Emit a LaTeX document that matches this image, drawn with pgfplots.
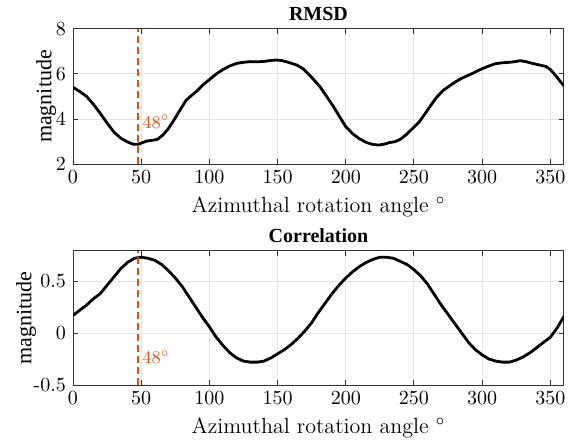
\documentclass[border=0pt]{standalone}
\usepackage{pgfplots}
\pgfplotsset{compat=1.18}
\usepackage{fontspec}
\newfontfamily\timesfont{Liberation Serif}
\definecolor{morange}{rgb}{0.85,0.325,0.098}
\pgfplotsset{
  myaxis/.style={
    scale only axis, width=245.5pt,
    xmin=0, xmax=360,
    xtick={0,50,...,350},
    grid=major,
    major grid style={gray!22, line width=0.5pt},
    axis line style={black!80, line width=0.5pt},
    tick style={black!80, line width=0.5pt},
    tick align=inside, major tick length=2.5pt,
    tick label style={font=\fontsize{10}{12}\selectfont},
    every axis title shift=0pt,
    title style={font=\timesfont\bfseries\fontsize{10}{12}\selectfont, at={(0.5,1)}, anchor=base, yshift=4.3pt},
    xlabel={Azimuthal rotation angle $^\circ$},
    xlabel style={font=\fontsize{11}{13}\selectfont, at={(0.5,0)}, anchor=base, yshift=-24pt},
    ylabel={magnitude},
    ylabel style={font=\timesfont\fontsize{11}{13}\selectfont, anchor=center},
  }
}
\begin{document}
\begin{tikzpicture}
\begin{axis}[myaxis, at={(36.5pt,-14.5pt)}, anchor=north west, height=67.5pt,
  ymin=2, ymax=8, ytick={2,4,6,8}, title={RMSD},
  ylabel style={at={(axis description cs:-0.055,0.5)}}]
\addplot[black, line width=1.4pt, line join=round] coordinates {
(0,5.41) (5,5.22) (10,5.0) (15,4.65) (20,4.25) (25,3.82) (30,3.42) (35,3.15) (40,2.98) (44,2.88) (48,2.88) (51,2.95) (54,3.02) (58,3.05) (62,3.10) (66,3.29) (70,3.58) (74,3.95) (78,4.35) (83,4.84) (87,5.05) (91,5.25) (95,5.5) (100,5.75) (105,6.0) (110,6.2) (115,6.36) (120,6.47) (125,6.52) (130,6.55) (135,6.54) (140,6.56) (145,6.6) (149,6.62) (153,6.6) (159,6.5) (164,6.4) (169,6.22) (175,5.85) (181,5.44) (186,5.0) (191,4.55) (196,4.05) (200,3.66) (205,3.35) (210,3.12) (215,2.96) (219,2.88) (224,2.84) (228,2.88) (232,2.95) (236,2.99) (240,3.1) (244,3.29) (249,3.58) (254,3.88) (260,4.4) (266,4.92) (271,5.25) (276,5.47) (281,5.67) (285,5.81) (289,5.92) (293,6.03) (297,6.15) (301,6.26) (306,6.38) (310,6.46) (315,6.5) (320,6.52) (324,6.55) (328,6.59) (332,6.55) (337,6.47) (342,6.4) (347,6.33) (350,6.2) (352,6.06) (355,5.85) (357,5.69) (360,5.47)
};
\addplot[morange, line width=1pt, dash pattern=on 3.5pt off 2pt] coordinates {(48,2) (48,8)};
\node[morange, anchor=base west, inner sep=0pt, font=\fontsize{9}{11}\selectfont] at (axis cs:50.5,3.6) {$48^\circ$};
\end{axis}
\begin{axis}[myaxis, at={(36.5pt,-125.5pt)}, anchor=north west, height=67pt,
  ymin=-0.5, ymax=0.79, ytick={-0.5,0,0.5}, yticklabels={{-0.5},{0},{0.5}}, title={Correlation},
  ylabel style={at={(axis description cs:-0.0957,0.5)}}]
\addplot[black, line width=1.4pt, line join=round] coordinates {
(0,0.17) (5,0.22) (10,0.27) (15,0.33) (20,0.38) (25,0.46) (30,0.54) (35,0.62) (40,0.68) (45,0.72) (50,0.73) (55,0.72) (60,0.70) (65,0.66) (70,0.60) (75,0.53) (80,0.45) (85,0.35) (90,0.25) (95,0.15) (100,0.06) (105,-0.04) (110,-0.12) (115,-0.19) (120,-0.24) (125,-0.27) (130,-0.28) (135,-0.28) (140,-0.27) (145,-0.24) (150,-0.20) (155,-0.16) (160,-0.11) (165,-0.05) (170,0.02) (175,0.1) (180,0.2) (185,0.29) (190,0.38) (195,0.46) (200,0.53) (205,0.59) (210,0.64) (215,0.68) (220,0.71) (225,0.73) (230,0.73) (235,0.72) (240,0.69) (245,0.66) (250,0.61) (255,0.55) (260,0.47) (265,0.37) (270,0.27) (275,0.18) (280,0.09) (285,0.0) (290,-0.09) (295,-0.16) (300,-0.21) (305,-0.25) (310,-0.27) (315,-0.28) (320,-0.28) (325,-0.26) (330,-0.23) (335,-0.19) (340,-0.14) (345,-0.09) (350,-0.04) (355,0.05) (360,0.16)
};
\addplot[morange, line width=1pt, dash pattern=on 3.5pt off 2pt] coordinates {(48,-0.5) (48,0.79)};
\node[morange, anchor=base west, inner sep=0pt, font=\fontsize{9}{11}\selectfont] at (axis cs:50.5,-0.295) {$48^\circ$};
\end{axis}
\pgfresetboundingbox
\path[use as bounding box] (0,0) rectangle (289.5pt,-221.5pt);
\end{tikzpicture}
\end{document}
